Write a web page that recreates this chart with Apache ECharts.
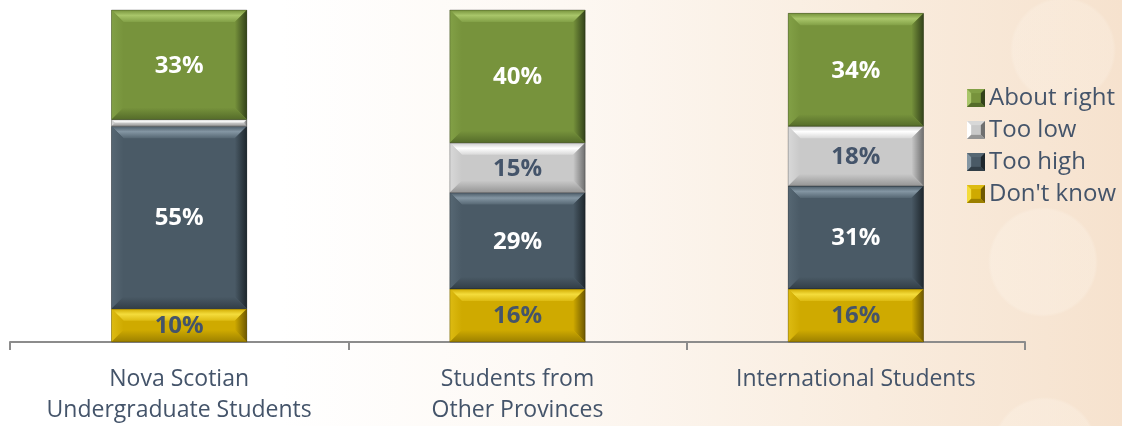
<!DOCTYPE html>
<html>
<head>
<meta charset="utf-8">
<script src="https://cdn.jsdelivr.net/npm/echarts@6/dist/echarts.min.js"></script>
<style>
html,body{margin:0;padding:0;width:1122px;height:426px;overflow:hidden;}
body{
  background:
    radial-gradient(circle at 1063px 50px, rgba(255,250,242,0.22) 0, rgba(255,250,242,0.22) 50px, rgba(255,250,242,0) 53px),
    radial-gradient(circle at 1043px 262px, rgba(255,250,242,0.25) 0, rgba(255,250,242,0.25) 52px, rgba(255,250,242,0) 55px),
    radial-gradient(circle at 1045px 450px, rgba(255,250,242,0.25) 0, rgba(255,250,242,0.25) 50px, rgba(255,250,242,0) 53px),
    linear-gradient(to right, #ffffff 0%, #ffffff 25%, #fdf8f3 50%, #f9ecde 78%, #f6e2ce 100%);
}
#c{width:1122px;height:426px;}
</style>
</head>
<body>
<div id="c"></div>
<script>
const categories = ['Nova Scotian\nUndergraduate Students', 'Students from\nOther Provinces', 'International Students'];
const seriesNames = ["Don't know", 'Too high', 'Too low', 'About right'];
const dontKnow = [10, 16, 16];
const tooHigh = [55, 29, 31];
const tooLow = [2, 15, 18];
const aboutRight = [33, 40, 34];
const yTicks = [0, 100];

const valuesBySeries = [dontKnow, tooHigh, tooLow, aboutRight];
const palettes = [
  {base:'#CFAA00', hi:'#F4DC3C', lt:'#DDBB12', dk:'#6E5800', bd:'#9C8000', text:'#44546A'},
  {base:'#4A5A66', hi:'#8496A3', lt:'#566773', dk:'#1E272D', bd:'#323E47', text:'#FFFFFF'},
  {base:'#C9C9C9', hi:'#FFFFFF', lt:'#D8D8D8', dk:'#6F6F6F', bd:'#959595', text:'#44546A'},
  {base:'#77933C', hi:'#A9C66A', lt:'#82A046', dk:'#33421A', bd:'#556C2A', text:'#FFFFFF'}
];

function legendIcon(p) {
  const svg = '<svg xmlns="http://www.w3.org/2000/svg" width="26" height="26" viewBox="0 0 13 13">' +
    '<rect width="13" height="13" fill="' + p.base + '"/>' +
    '<polygon points="0,0 13,0 6.5,6.5" fill="' + p.lt + '"/>' +
    '<polygon points="0,0 6.5,6.5 0,13" fill="' + p.hi + '"/>' +
    '<polygon points="13,0 6.5,6.5 13,13" fill="' + p.dk + '"/>' +
    '<polygon points="0,13 13,13 6.5,6.5" fill="' + p.bd + '"/>' +
    '<rect x="3" y="3" width="7" height="7" fill="' + p.base + '"/></svg>';
  return 'image://data:image/svg+xml;charset=utf-8,' + encodeURIComponent(svg);
}

const chart = echarts.init(document.getElementById('c'));
const LG = echarts.graphic.LinearGradient;

function makeRender(pal) {
  return function (params, api) {
    const cat = api.value(0), base = api.value(1), val = api.value(2);
    const pb = api.coord([cat, base]);
    const pt = api.coord([cat, base + val]);
    const bw = api.size([1, 0])[0] * 0.4;
    const x0 = pb[0] - bw / 2, x1 = pb[0] + bw / 2;
    const yb = pb[1], yt = pt[1];
    const h = yb - yt;
    const b = Math.min(12, h / 2, bw / 2);
    const children = [
      {type:'rect', shape:{x:x0, y:yt, width:bw, height:h}, style:{fill:pal.base}},
      {type:'polygon', shape:{points:[[x0,yt],[x1,yt],[x1-b,yt+b],[x0+b,yt+b]]},
        style:{fill:new LG(0,0,0,1,[{offset:0,color:pal.base},{offset:0.45,color:pal.hi},{offset:1,color:pal.lt}])}},
      {type:'polygon', shape:{points:[[x0,yt],[x0+b,yt+b],[x0+b,yb-b],[x0,yb]]},
        style:{fill:new LG(0,0,1,0,[{offset:0,color:pal.lt},{offset:1,color:pal.base}])}},
      {type:'polygon', shape:{points:[[x1,yt],[x1-b,yt+b],[x1-b,yb-b],[x1,yb]]},
        style:{fill:new LG(0,0,1,0,[{offset:0,color:pal.base},{offset:1,color:pal.dk}])}},
      {type:'polygon', shape:{points:[[x0,yb],[x1,yb],[x1-b,yb-b],[x0+b,yb-b]]},
        style:{fill:new LG(0,0,0,1,[{offset:0,color:pal.base},{offset:1,color:pal.bd}])}},
      {type:'rect', shape:{x:x0, y:yt, width:bw, height:h}, style:{fill:'none', stroke:'rgba(0,0,0,0.25)', lineWidth:1}}
    ];
    if (val >= 5) {
      children.push({type:'text', style:{text: val + '%', x:pb[0], y:(yt+yb)/2 + 1, align:'center', verticalAlign:'middle',
        fill:pal.text, font:'bold 24px "Open Sans"'}});
    }
    return {type:'group', children};
  };
}

const series = seriesNames.map((name, si) => {
  const data = categories.map((c, ci) => {
    let base = 0;
    for (let k = 0; k < si; k++) base += valuesBySeries[k][ci];
    return [ci, base, valuesBySeries[si][ci]];
  });
  return {
    name, type:'custom', renderItem: makeRender(palettes[si]),
    itemStyle:{color: palettes[si].base},
    encode:{x:0, y:[1,2]},
    data
  };
});

chart.setOption({
  animation:false,
  grid:{left:10, right:97, top:10, bottom:82},
  legend:{
    orient:'vertical', left:962, top:81, itemWidth:18, itemHeight:18, itemGap:8,
    data:['About right','Too low','Too high',"Don't know"].map(n => ({name:n, icon: legendIcon(palettes[seriesNames.indexOf(n)])})),
    textStyle:{fontFamily:'Open Sans', fontSize:24, color:'#44546A', padding:[0,0,0,-1]}
  },
  xAxis:{
    type:'category', data:categories, boundaryGap:true,
    axisLine:{lineStyle:{color:'#8C8C8C', width:2}},
    axisTick:{show:true, length:8, lineStyle:{color:'#8C8C8C', width:2}},
    axisLabel:{fontFamily:'Open Sans', fontSize:23, color:'#44546A', lineHeight:31, margin:22, interval:0}
  },
  yAxis:{
    type:'value', min:yTicks[0], max:yTicks[1], show:false
  },
  series
});
</script>
</body>
</html>
